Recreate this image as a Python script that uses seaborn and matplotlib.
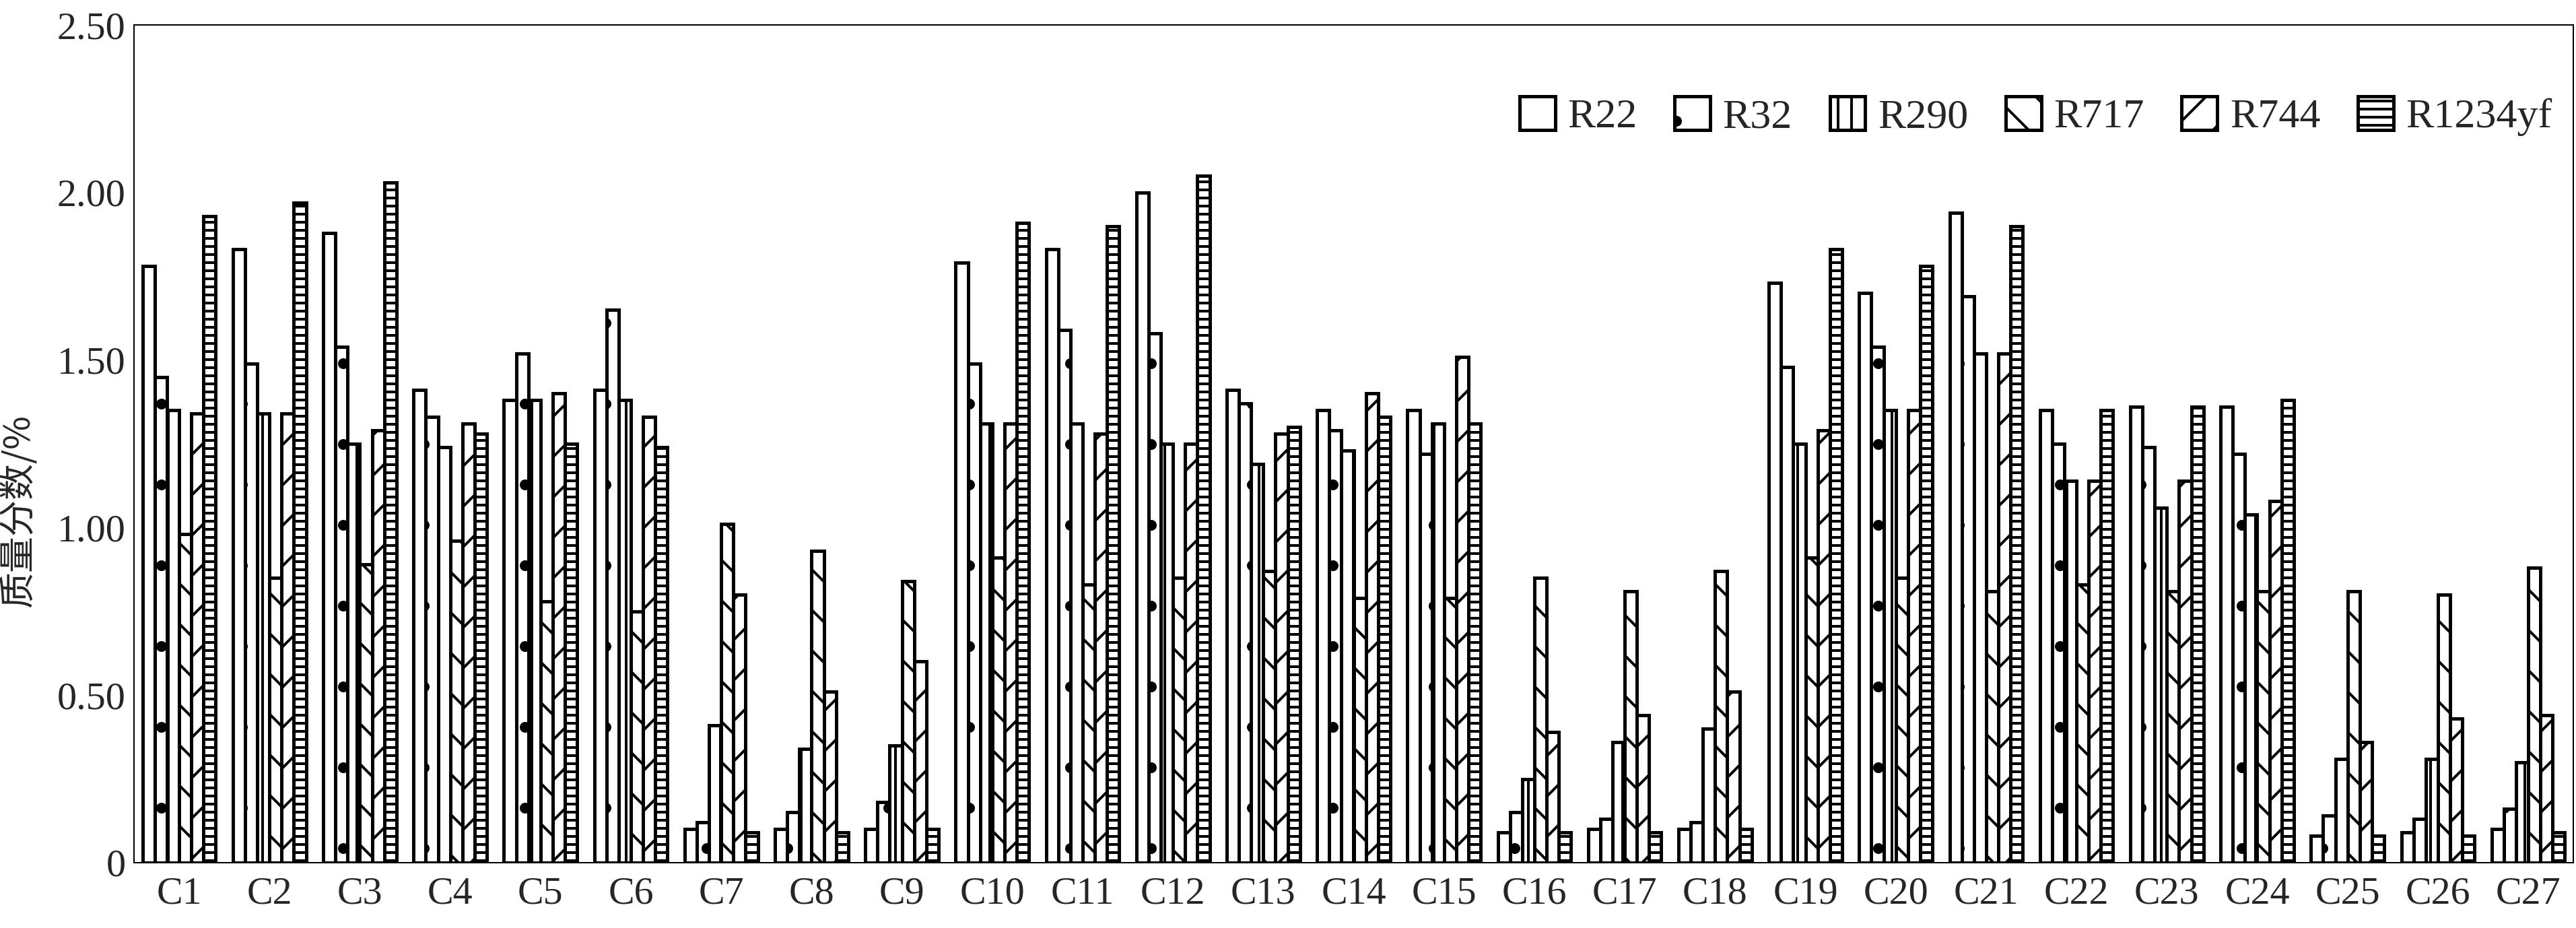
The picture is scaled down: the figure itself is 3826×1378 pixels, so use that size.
import numpy as np
import pandas as pd
import matplotlib
matplotlib.use('Agg')
import matplotlib.pyplot as plt
import seaborn as sns

# cases on the x axis and the six refrigerants (hue)
cases = [f'C{i}' for i in range(1, 28)]
refrigerants = ['R22', 'R32', 'R290', 'R717', 'R744', 'R1234yf']

# mass fraction in %
r22 = [1.78, 1.83, 1.88, 1.41, 1.38, 1.41, 0.10, 0.10, 0.10, 1.79, 1.83, 2.00, 1.41, 1.35,
       1.35, 0.09, 0.10, 0.10, 1.73, 1.70, 1.94, 1.35, 1.36, 1.36, 0.08, 0.09, 0.10]
r32 = [1.45, 1.49, 1.54, 1.33, 1.52, 1.65, 0.12, 0.15, 0.18, 1.49, 1.59, 1.58, 1.37, 1.29,
       1.22, 0.15, 0.13, 0.12, 1.48, 1.54, 1.69, 1.25, 1.24, 1.22, 0.14, 0.13, 0.16]
r290 = [1.35, 1.34, 1.25, 1.24, 1.38, 1.38, 0.41, 0.34, 0.35, 1.31, 1.31, 1.25, 1.19, 1.23,
        1.31, 0.25, 0.36, 0.40, 1.25, 1.35, 1.52, 1.14, 1.06, 1.04, 0.31, 0.31, 0.30]
r717 = [0.98, 0.85, 0.89, 0.96, 0.78, 0.75, 1.01, 0.93, 0.84, 0.91, 0.83, 0.85, 0.87, 0.79,
        0.79, 0.85, 0.81, 0.87, 0.91, 0.85, 0.81, 0.83, 0.81, 0.81, 0.81, 0.80, 0.88]
r744 = [1.34, 1.34, 1.29, 1.31, 1.40, 1.33, 0.80, 0.51, 0.60, 1.31, 1.28, 1.25, 1.28, 1.40,
        1.51, 0.39, 0.44, 0.51, 1.29, 1.35, 1.52, 1.14, 1.14, 1.08, 0.36, 0.43, 0.44]
r1234yf = [1.93, 1.97, 2.03, 1.28, 1.25, 1.24, 0.09, 0.09, 0.10, 1.91, 1.90, 2.05, 1.30, 1.33,
           1.31, 0.09, 0.09, 0.10, 1.83, 1.78, 1.90, 1.35, 1.36, 1.38, 0.08, 0.08, 0.09]

ytick_vals = [0, 0.5, 1.0, 1.5, 2.0, 2.5]
ytick_labels = ['0', '0.50', '1.00', '1.50', '2.00', '2.50']

DPI = 360  # hatch spacing scales with dpi, 360 gives the original's density

sns.set_style('white')
plt.rcParams['font.family'] = ['Liberation Serif', 'Noto Sans CJK SC']
plt.rcParams['hatch.linewidth'] = 0.8
plt.rcParams['hatch.color'] = 'black'

# long table for seaborn
wide = pd.DataFrame({'R22': r22, 'R32': r32, 'R290': r290, 'R717': r717,
                     'R744': r744, 'R1234yf': r1234yf}, index=cases)
df = wide.reset_index(names='case').melt(id_vars='case', var_name='ref', value_name='val')

fig = plt.figure(figsize=(3826 / DPI, 1378 / DPI), dpi=DPI)
ax = fig.add_axes([0.052, 0.0704, 0.947, 0.9027])

sns.barplot(data=df, x='case', y='val', hue='ref', hue_order=refrigerants,
            palette={r: 'white' for r in refrigerants}, saturation=1,
            width=0.81, gap=0, edgecolor='black', linewidth=1.0,
            legend=False, ax=ax)

# black & white hatching per refrigerant
hatches = ['', '.', '|||', '\\\\', '//', '-----']
for cont, h in zip(ax.containers, hatches):
    for p in cont:
        p.set_hatch(h)

ax.legend(ax.containers, refrigerants, ncol=6, loc='center left',
          bbox_to_anchor=(0.568, 0.891), frameon=False, fontsize=12.4,
          handlelength=0.85, handleheight=0.85, handletextpad=0.3,
          columnspacing=0.9, borderpad=0, borderaxespad=0)

ax.set_ylim(0, 2.5)
ax.set_yticks(ytick_vals)
ax.set_yticklabels(ytick_labels)
ax.tick_params(axis='y', direction='in', length=5.4, width=0.4, labelsize=11.6, pad=2.5)
ax.tick_params(axis='x', length=0, labelsize=11.6, pad=4.2)
for s in ax.spines.values():
    s.set_visible(True)
    s.set_linewidth(0.4)
    s.set_color('black')

ax.set_xlabel('')
ax.set_ylabel('质量分数/%', fontsize=10.8, family=['Noto Sans CJK SC'])
ax.yaxis.set_label_coords(-0.0395, 0.42)

fig.savefig('out.png', dpi=DPI)
